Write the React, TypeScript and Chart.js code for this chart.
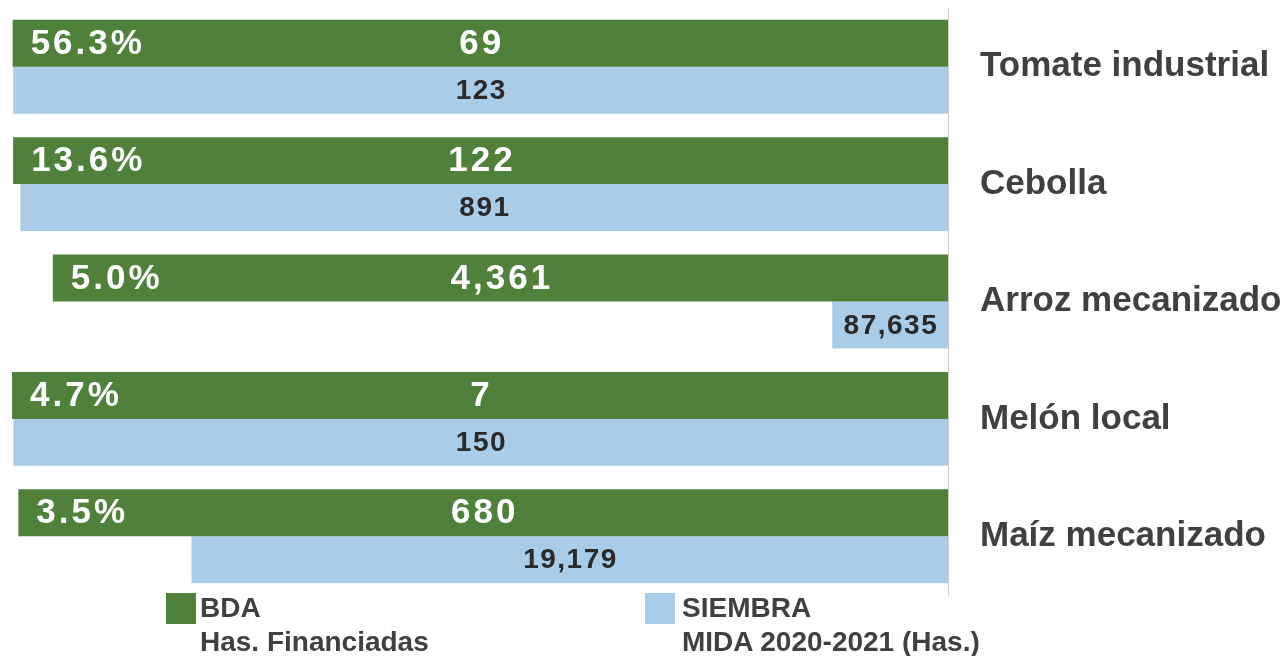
import React, { useEffect, useRef } from "react";
import { Chart, registerables } from "chart.js";

Chart.register(...registerables);

const categories = ["Tomate industrial", "Cebolla", "Arroz mecanizado", "Melón local", "Maíz mecanizado"];
const bdaValues = [69, 122, 4361, 7, 680];
const siembraValues = [123, 891, 87635, 150, 19179];
const percentages = [56.3, 13.6, 5.0, 4.7, 3.5];
const seriesNames = [["BDA", "Has. Financiadas"], ["SIEMBRA", "MIDA 2020-2021 (Has.)"]];
const axisMax = 100000;

const GREEN = "#4F813A";
const BLUE = "#A9CDE9";
const TEXT = "#404040";
const FONT = "'Liberation Sans', Arial, sans-serif";

const labelPlugin = {
  id: "barLabels",
  afterDatasetsDraw(chart: any) {
    const ctx = chart.ctx;
    ctx.save();
    ctx.textBaseline = "middle";
    const fmt = (v: number) => v.toLocaleString("en-US");
    chart.data.datasets.forEach((ds: any, di: number) => {
      const meta = chart.getDatasetMeta(di);
      meta.data.forEach((bar: any, i: number) => {
        const left = Math.min(bar.x, bar.base);
        const right = Math.max(bar.x, bar.base);
        const cx = (left + right) / 2;
        if (di === 0) {
          ctx.fillStyle = "#ffffff";
          ctx.font = `bold 35px ${FONT}`;
          (ctx as any).letterSpacing = "3px";
          ctx.textAlign = "center";
          ctx.fillText(fmt(ds.data[i]), cx + 1.5, bar.y + 1);
          ctx.textAlign = "left";
          ctx.fillText(percentages[i].toFixed(1) + "%", left + 18, bar.y + 1);
        } else {
          ctx.fillStyle = "#2a2a2a";
          ctx.font = `bold 28px ${FONT}`;
          (ctx as any).letterSpacing = "1.5px";
          ctx.textAlign = "center";
          ctx.fillText(fmt(ds.data[i]), cx + 0.75, bar.y + 1);
        }
      });
    });
    ctx.restore();
  },
};

export default function App() {
  const canvasRef = useRef<HTMLCanvasElement>(null);

  useEffect(() => {
    const chart = new Chart(canvasRef.current as HTMLCanvasElement, {
      type: "bar",
      data: {
        labels: categories,
        datasets: [
          {
            label: seriesNames[0].join(" "),
            data: bdaValues,
            backgroundColor: GREEN,
            base: axisMax,
            categoryPercentage: 0.8,
            barPercentage: 1.0,
          } as any,
          {
            label: seriesNames[1].join(" "),
            data: siembraValues,
            backgroundColor: BLUE,
            base: axisMax,
            categoryPercentage: 0.8,
            barPercentage: 1.0,
          } as any,
        ],
      },
      options: {
        indexAxis: "y",
        animation: false,
        responsive: true,
        maintainAspectRatio: false,
        layout: { padding: { left: 12, top: 8, bottom: 61, right: 0 } },
        plugins: {
          legend: { display: false },
          tooltip: { enabled: false },
        },
        scales: {
          x: {
            display: false,
            min: 0,
            max: axisMax,
          },
          y: {
            position: "right",
            grid: { display: false, drawTicks: false },
            border: { display: true, color: "#cfcfcf", width: 1 },
            ticks: {
              padding: 32,
              color: TEXT,
              font: { family: FONT, size: 35, weight: "bold" },
            },
            afterFit: (scale: any) => {
              scale.width = 338;
              scale.paddingTop = 0;
              scale.paddingBottom = 0;
            },
          },
        },
      },
      plugins: [labelPlugin],
    });
    return () => chart.destroy();
  }, []);

  const legendText: React.CSSProperties = {
    position: "absolute",
    top: 591,
    font: `bold 28px ${FONT}`,
    lineHeight: "34px",
    color: TEXT,
    whiteSpace: "nowrap",
  };

  return (
    <div style={{ position: "fixed", left: 0, top: 0, width: 1286, height: 656, background: "#fff", overflow: "hidden" }}>
      <canvas ref={canvasRef} />
      <div style={{ position: "absolute", left: 166, top: 593, width: 30, height: 31, background: GREEN }} />
      <div style={{ ...legendText, left: 200 }}>
        {seriesNames[0][0]}
        <br />
        {seriesNames[0][1]}
      </div>
      <div style={{ position: "absolute", left: 645, top: 593, width: 30, height: 31, background: BLUE }} />
      <div style={{ ...legendText, left: 682 }}>
        {seriesNames[1][0]}
        <br />
        {seriesNames[1][1]}
      </div>
    </div>
  );
}
